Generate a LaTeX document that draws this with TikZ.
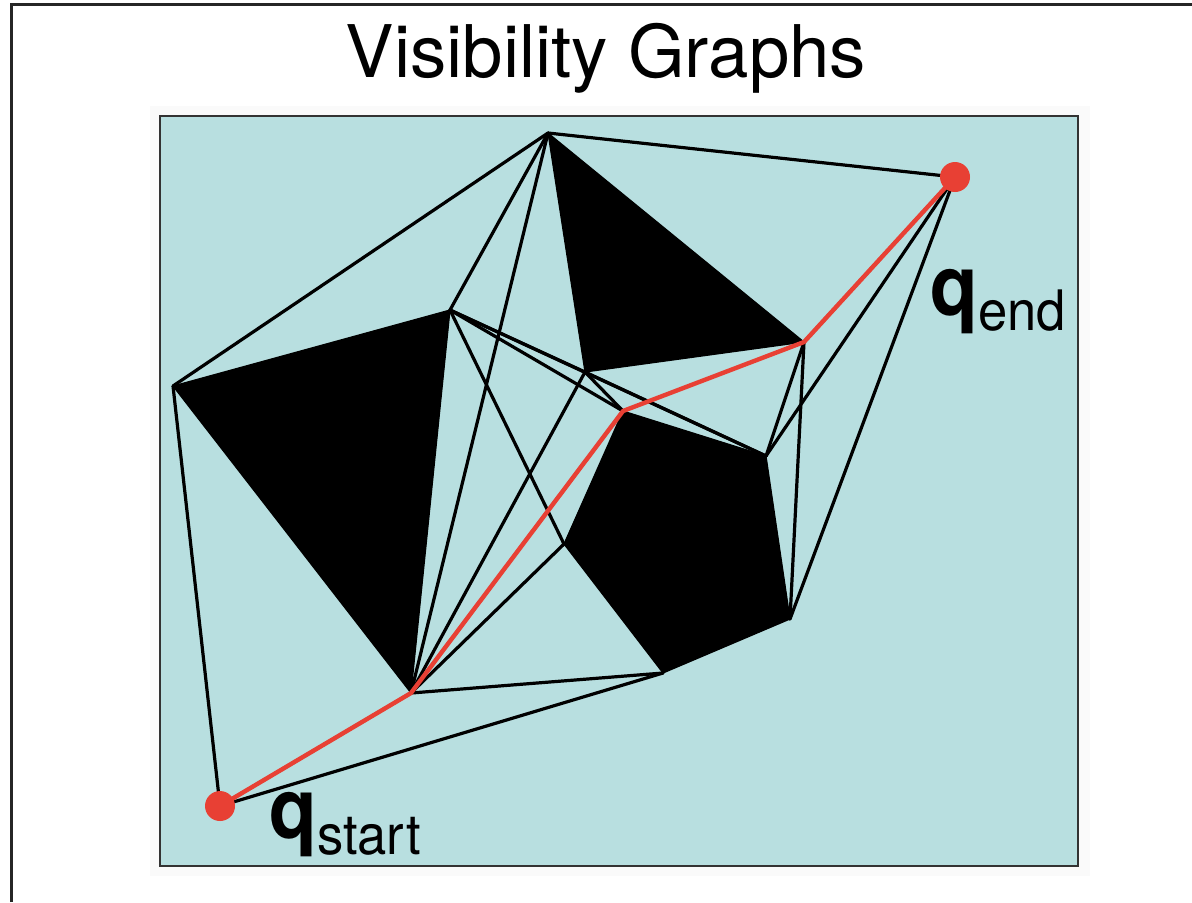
\documentclass[tikz,border=0pt]{standalone}
\usepackage{fontspec}
\setmainfont{TeX Gyre Heros}
\definecolor{bgcyan}{RGB}{184,223,224}
\definecolor{pathred}{RGB}{232,64,52}
\begin{document}
\begin{tikzpicture}[x=0.5pt,y=-0.5pt,
  visedge/.style={line width=1.6pt,black,line cap=round,line join=round},
  redpath/.style={line width=2.2pt,pathred,line cap=round,line join=round},
  obstacle/.style={fill=black,draw=black,line width=0.6pt,line join=round},
  dot/.style={circle,fill=pathred,inner sep=0pt,minimum size=15pt},
  lbl/.style={inner sep=0pt,anchor=base west}]
\useasboundingbox (0,0) rectangle (1192,902);
% outer frame (cropped)
\draw[line width=1.5pt,black!85] (11,902) -- (11,4.5) -- (1192,4.5);
% title
\node[inner sep=0pt,anchor=base] (title) at (606,77) {\fontsize{36.3}{40}\selectfont Visibility Graphs};
% panel
\fill[black!2] (150,106) rectangle (1090,876);
\draw[fill=bgcyan,draw=black!80,line width=1pt] (160,116) rectangle (1078,866);
% vertices
\coordinate (S) at (220,806);
\coordinate (G) at (955,177);
\coordinate (A) at (173,386);
\coordinate (B) at (450,310);
\coordinate (C) at (411,693);
\coordinate (T) at (548,133);
\coordinate (R) at (804,342);
\coordinate (L) at (585,372);
\coordinate (P1) at (623,411);
\coordinate (P2) at (766,456);
\coordinate (P3) at (790,619);
\coordinate (P4) at (663,673);
\coordinate (P5) at (564,544);
% obstacles
\filldraw[obstacle] (A) -- (B) -- (C) -- cycle;
\filldraw[obstacle] (T) -- (R) -- (L) -- cycle;
\filldraw[obstacle] (P1) -- (P2) -- (P3) -- (P4) -- (P5) -- cycle;
% visibility edges
\draw[visedge] (S) -- (A);
\draw[visedge] (S) -- (C);
\draw[visedge] (S) -- (P4);
\draw[visedge] (A) -- (T);
\draw[visedge] (T) -- (B);
\draw[visedge] (T) -- (C);
\draw[visedge] (T) -- (G);
\draw[visedge] (B) -- (P5);
\draw[visedge] (B) -- (P1);
\draw[visedge] (B) -- (L);
\draw[visedge] (B) -- (P2);
\draw[visedge] (C) -- (L);
\draw[visedge] (C) -- (P1);
\draw[visedge] (C) -- (P5);
\draw[visedge] (C) -- (P4);
\draw[visedge] (L) -- (P1);
\draw[visedge] (L) -- (P2);
\draw[visedge] (P2) -- (R);
\draw[visedge] (P2) -- (G);
\draw[visedge] (R) -- (P3);
\draw[visedge] (P3) -- (G);
\draw[visedge] (R) -- (G);
% shortest path
\draw[redpath] (S) -- (C) -- (P1) -- (R) -- (G);
% start / end
\node[dot] (qs) at (S) {};
\node[dot] (qe) at (G) {};
\node[lbl] (qslabel) at (269,838) {\scalebox{1}[1.08]{\fontsize{39}{40}\selectfont\bfseries q}\raisebox{-8pt}{\scalebox{1}[1.06]{\fontsize{26.3}{30}\selectfont start}}};
\node[lbl] (qelabel) at (930,315) {\scalebox{1}[1.08]{\fontsize{39}{40}\selectfont\bfseries q}\raisebox{-7.5pt}{\scalebox{1}[1.06]{\fontsize{26.3}{30}\selectfont end}}};
\end{tikzpicture}
\end{document}
